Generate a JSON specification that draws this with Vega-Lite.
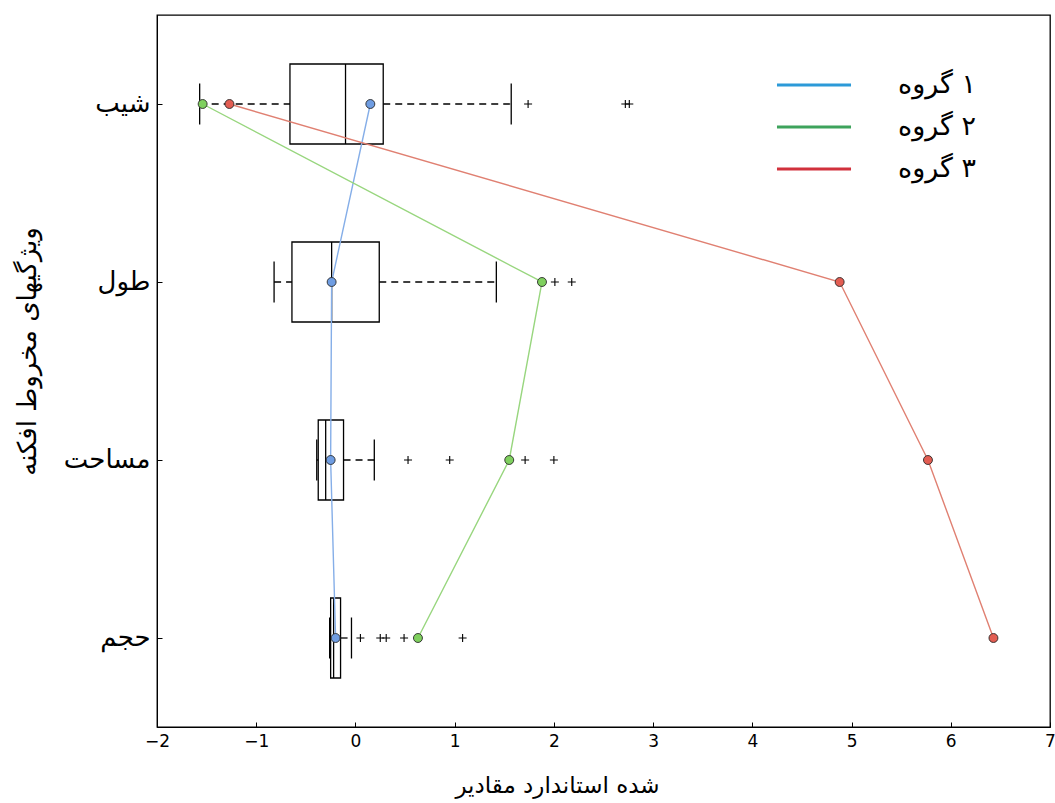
{
  "$schema": "https://vega.github.io/schema/vega-lite/v6.json",
  "width": 893,
  "height": 712,
  "padding": {"left": 14, "top": 15, "right": 5, "bottom": 5},
  "background": "white",
  "config": {
    "view": {"stroke": "black", "strokeWidth": 1.3},
    "font": "DejaVu Sans"
  },
  "datasets": {
    "boxes": [
      {"feature": "شیب", "wlo": -1.57, "q1": -0.66, "median": -0.10, "q3": 0.28, "whi": 1.57},
      {"feature": "طول", "wlo": -0.82, "q1": -0.64, "median": -0.24, "q3": 0.24, "whi": 1.42},
      {"feature": "مساحت", "wlo": -0.39, "q1": -0.375, "median": -0.30, "q3": -0.12, "whi": 0.19},
      {"feature": "حجم", "wlo": -0.26, "q1": -0.25, "median": -0.22, "q3": -0.15, "whi": -0.04}
    ],
    "outliers": [
      {"feature": "شیب", "value": 1.74},
      {"feature": "شیب", "value": 2.72},
      {"feature": "شیب", "value": 2.76},
      {"feature": "طول", "value": 2.01},
      {"feature": "طول", "value": 2.18},
      {"feature": "مساحت", "value": 0.53},
      {"feature": "مساحت", "value": 0.95},
      {"feature": "مساحت", "value": 1.71},
      {"feature": "مساحت", "value": 2.00},
      {"feature": "حجم", "value": 0.05},
      {"feature": "حجم", "value": 0.25},
      {"feature": "حجم", "value": 0.31},
      {"feature": "حجم", "value": 0.49},
      {"feature": "حجم", "value": 1.08}
    ],
    "means": [
      {"group": "گروه\u200e ۱", "feature": "شیب", "ord": 1, "value": 0.15},
      {"group": "گروه\u200e ۱", "feature": "طول", "ord": 2, "value": -0.24},
      {"group": "گروه\u200e ۱", "feature": "مساحت", "ord": 3, "value": -0.25},
      {"group": "گروه\u200e ۱", "feature": "حجم", "ord": 4, "value": -0.20},
      {"group": "گروه\u200e ۲", "feature": "شیب", "ord": 1, "value": -1.54},
      {"group": "گروه\u200e ۲", "feature": "طول", "ord": 2, "value": 1.88},
      {"group": "گروه\u200e ۲", "feature": "مساحت", "ord": 3, "value": 1.55},
      {"group": "گروه\u200e ۲", "feature": "حجم", "ord": 4, "value": 0.63},
      {"group": "گروه\u200e ۳", "feature": "شیب", "ord": 1, "value": -1.27},
      {"group": "گروه\u200e ۳", "feature": "طول", "ord": 2, "value": 4.88},
      {"group": "گروه\u200e ۳", "feature": "مساحت", "ord": 3, "value": 5.77},
      {"group": "گروه\u200e ۳", "feature": "حجم", "ord": 4, "value": 6.43}
    ]
  },
  "layer": [
    {
      "data": {"name": "boxes"},
      "mark": {"type": "bar", "size": 80, "fill": "white", "stroke": "black", "strokeWidth": 1.3},
      "encoding": {
        "x": {
          "field": "q1", "type": "quantitative",
          "scale": {"domain": [-2, 7], "nice": false, "zero": false},
          "axis": {
            "title": "مقادیر\u200e استاندارد\u200e شده",
            "values": [-2, -1, 0, 1, 2, 3, 4, 5, 6, 7],
            "format": "d",
            "grid": false,
            "domainColor": "black",
            "tickColor": "black",
            "tickSize": -5,
            "labelPadding": 11,
            "labelFlush": false,
            "labelFont": "DejaVu Sans",
            "labelFontSize": 17,
            "labelColor": "black",
            "titleFont": "DejaVu Sans",
            "titleFontSize": 23,
            "titleFontWeight": "normal",
            "titleColor": "black",
            "titleX": 400,
            "titleY": 58,
            "titleAlign": "center",
            "titleBaseline": "middle"
          }
        },
        "x2": {"field": "q3"},
        "y": {
          "field": "feature", "type": "nominal",
          "scale": {"domain": ["شیب", "طول", "مساحت", "حجم"], "paddingInner": 0, "paddingOuter": 0},
          "axis": {
            "title": "ویژگیهای مخروط افکنه",
            "grid": false,
            "domainColor": "black",
            "tickColor": "black",
            "tickSize": -5,
            "labelPadding": 12,
            "labelFont": "DejaVu Sans",
            "labelFontSize": 26,
            "labelColor": "black",
            "titleFont": "DejaVu Sans",
            "titleFontSize": 26,
            "titleFontWeight": "normal",
            "titleColor": "black",
            "titleAngle": 270,
            "titleX": -117,
            "titleY": 336,
            "titleAlign": "center",
            "titleBaseline": "bottom"
          }
        }
      }
    },
    {
      "data": {"name": "boxes"},
      "mark": {"type": "rule", "color": "black", "strokeWidth": 1.3, "strokeDash": [7, 5]},
      "encoding": {
        "x": {"field": "wlo", "type": "quantitative"},
        "x2": {"field": "q1"},
        "y": {"field": "feature", "type": "nominal"}
      }
    },
    {
      "data": {"name": "boxes"},
      "mark": {"type": "rule", "color": "black", "strokeWidth": 1.3, "strokeDash": [7, 5]},
      "encoding": {
        "x": {"field": "q3", "type": "quantitative"},
        "x2": {"field": "whi"},
        "y": {"field": "feature", "type": "nominal"}
      }
    },
    {
      "data": {"name": "boxes"},
      "mark": {"type": "tick", "size": 80, "thickness": 1.3, "color": "black", "opacity": 1},
      "encoding": {
        "x": {"field": "median", "type": "quantitative"},
        "y": {"field": "feature", "type": "nominal"}
      }
    },
    {
      "data": {"name": "boxes"},
      "mark": {"type": "tick", "size": 41, "thickness": 1.3, "color": "black", "opacity": 1},
      "encoding": {
        "x": {"field": "wlo", "type": "quantitative"},
        "y": {"field": "feature", "type": "nominal"}
      }
    },
    {
      "data": {"name": "boxes"},
      "mark": {"type": "tick", "size": 41, "thickness": 1.3, "color": "black", "opacity": 1},
      "encoding": {
        "x": {"field": "whi", "type": "quantitative"},
        "y": {"field": "feature", "type": "nominal"}
      }
    },
    {
      "data": {"name": "outliers"},
      "mark": {"type": "point", "shape": "M-1,0L1,0M0,-1L0,1", "size": 64, "stroke": "black", "strokeWidth": 1.1, "filled": false, "opacity": 1},
      "encoding": {
        "x": {"field": "value", "type": "quantitative"},
        "y": {"field": "feature", "type": "nominal"}
      }
    },
    {
      "data": {"name": "means"},
      "mark": {"type": "line", "strokeWidth": 1.4},
      "encoding": {
        "x": {"field": "value", "type": "quantitative"},
        "y": {"field": "feature", "type": "nominal"},
        "order": {"field": "ord", "type": "quantitative"},
        "stroke": {
          "field": "group", "type": "nominal",
          "scale": {"range": ["#85aee8", "#98d67e", "#e08072"]},
          "legend": null
        }
      }
    },
    {
      "data": {"name": "means"},
      "mark": {"type": "line", "opacity": 0},
      "encoding": {
        "x": {"field": "value", "type": "quantitative"},
        "y": {"field": "feature", "type": "nominal"},
        "order": {"field": "ord", "type": "quantitative"},
        "color": {
          "field": "group", "type": "nominal",
          "scale": {"domain": ["گروه\u200e ۱", "گروه\u200e ۲", "گروه\u200e ۳"], "range": ["#2c9ad8", "#3ea35c", "#d1313c"]},
          "legend": {
            "orient": "none",
            "legendX": 643,
            "legendY": 56,
            "title": null,
            "symbolType": "M-3,0L3,0",
            "symbolSize": 609,
            "symbolStrokeWidth": 3,
            "symbolOpacity": 1,
            "labelFont": "DejaVu Sans",
            "labelFontSize": 27,
            "labelColor": "black",
            "labelOffset": 70,
            "rowPadding": 15,
            "padding": 0
          }
        }
      }
    },
    {
      "data": {"name": "means"},
      "mark": {"type": "circle", "size": 80, "stroke": "#2a2a2a", "strokeWidth": 0.9, "opacity": 1},
      "encoding": {
        "x": {"field": "value", "type": "quantitative"},
        "y": {"field": "feature", "type": "nominal"},
        "fill": {
          "field": "group", "type": "nominal",
          "scale": {"range": ["#6f9de2", "#7fd05e", "#e35d52"]},
          "legend": null
        }
      }
    }
  ]
}
